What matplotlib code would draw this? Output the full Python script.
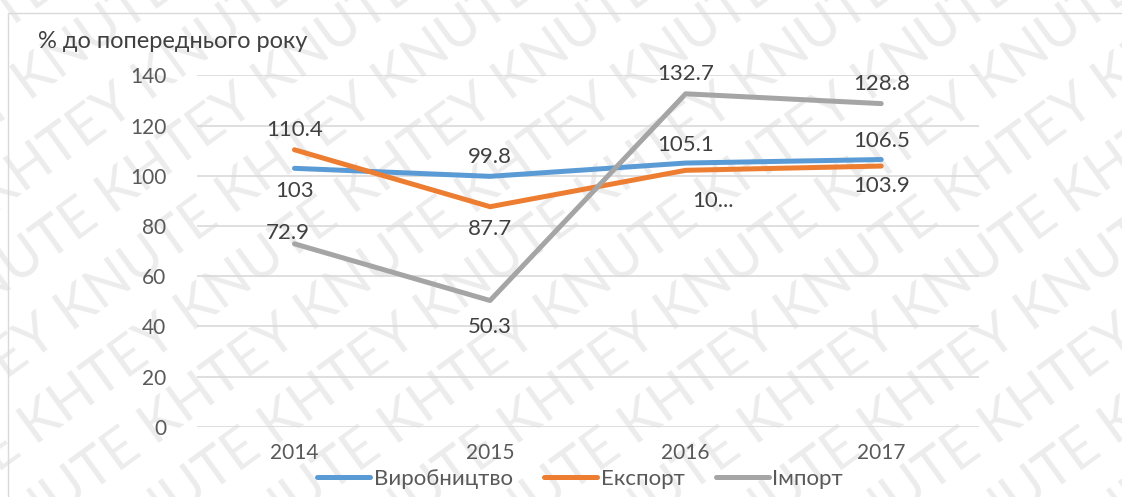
import matplotlib
matplotlib.use("Agg")
import matplotlib.pyplot as plt
import numpy as np

years = ["2014", "2015", "2016", "2017"]
vyrobnytstvo = [103, 99.8, 105.1, 106.5]
eksport = [110.4, 87.7, 102.2, 103.9]
import_ = [72.9, 50.3, 132.7, 128.8]
lab_vyr = ["103", "99.8", "105.1", "106.5"]
lab_eks = ["110.4", "87.7", "10...", "103.9"]
lab_imp = ["72.9", "50.3", "132.7", "128.8"]
series_names = ["Виробництво", "Експорт", "Імпорт"]
yticks = [0, 20, 40, 60, 80, 100, 120, 140]

plt.rcParams['font.family'] = ['Lato', 'DejaVu Sans']

W, H = 1122, 497
fig = plt.figure(figsize=(W/100, H/100), dpi=100)
fig.patch.set_facecolor('white')

# watermark
for i in range(-10, 12):
    x0 = i * 120
    fig.text(x0 / W, -0.15, "KNUTE KHTEY " * 5, transform=fig.transFigure,
             rotation=36, fontsize=40, color='#dadada', alpha=0.5,
             ha='left', va='bottom', zorder=-1, rotation_mode='anchor')

# chart border
fig.add_artist(plt.Rectangle((8/W, -0.1), 1.2, (H-13)/H + 0.1, transform=fig.transFigure,
                             fill=False, edgecolor='#d9d9d9', lw=1, zorder=-0.5))

ax = fig.add_axes([196.7/W, 1 - 426.7/H, (979-196.7)/W, (426.7-75.5)/H])
ax.patch.set_alpha(0)
x = np.arange(len(years))
colors = ['#5B9BD5', '#ED7D31', '#A5A5A5']
for vals, c, name in zip([vyrobnytstvo, eksport, import_], colors, series_names):
    ax.plot(x, vals, color=c, lw=3.6, solid_capstyle='round', solid_joinstyle='round', label=name, zorder=3)

ax.set_xlim(-0.5, len(years) - 0.5)
ax.set_ylim(0, 140)
ax.set_yticks(yticks)
ax.set_xticks(x)
ax.set_xticklabels(years)
ax.grid(axis='y', color='#d9d9d9', lw=1.2)
ax.set_axisbelow(True)
for s in ax.spines.values():
    s.set_visible(False)
ax.tick_params(length=0, labelsize=15, colors='#595959')
ax.tick_params(axis='y', pad=22)
ax.tick_params(axis='x', pad=12)

lc = '#404040'
fs = 16
def lab(vals, labels, offs):
    for xi, v, t, o in zip(x, vals, labels, offs):
        ax.annotate(t, (xi, v), xytext=(o[0], o[1]), textcoords='offset points',
                    ha='center', va='center', fontsize=fs, color=lc, zorder=4)

lab(vyrobnytstvo, lab_vyr, [(0, -16), (0, 14), (0, 13), (0, 13)])
lab(eksport, lab_eks, [(0, 14), (0, -16), (20, -22), (0, -14)])
lab(import_, lab_imp, [(-5, 8), (0, -19), (0, 14), (0, 14)])

fig.text(38/W, 1 - 42/H, "% до попереднього року", fontsize=17, color=lc, ha='left', va='center')

leg = ax.legend(loc='center', bbox_to_anchor=(0.49, (1 - 479/H - (1 - 426.7/H)) / ((426.7-75.5)/H)),
                ncol=3, frameon=False, fontsize=16, handlelength=2.4, handletextpad=0.15,
                columnspacing=1.4)
for t in leg.get_texts():
    t.set_color('#595959')
for l in leg.get_lines():
    l.set_linewidth(3.6)

fig.savefig("out.png", dpi=100)
